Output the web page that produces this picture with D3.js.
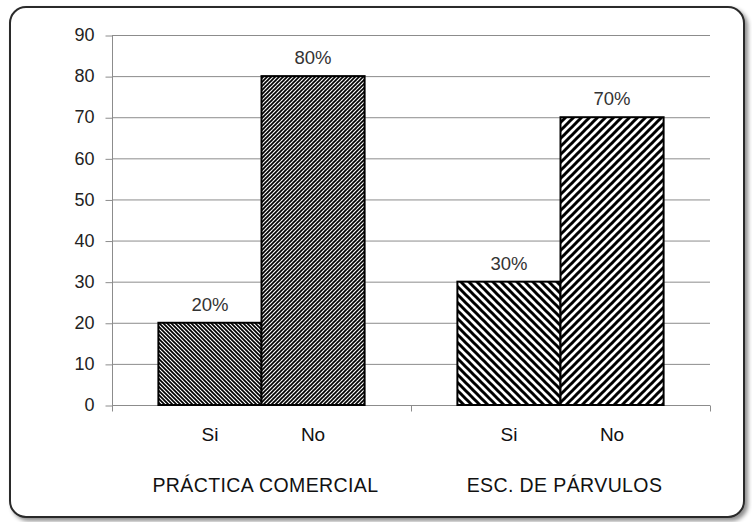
<!DOCTYPE html>
<html><head><meta charset="utf-8">
<script src="https://cdn.jsdelivr.net/npm/d3@7"></script>
<style>html,body{margin:0;padding:0;background:#fff;}svg{display:block;}</style>
</head><body>
<script>
const groups = ["PRÁCTICA COMERCIAL", "ESC. DE PÁRVULOS"];
const answers = ["Si", "No"];
const valuesPractica = [20, 80];
const valuesParvulos = [30, 70];
const percentLabelsPractica = ["20%", "80%"];
const percentLabelsParvulos = ["30%", "70%"];
const yTicks = [0, 10, 20, 30, 40, 50, 60, 70, 80, 90];

(function () {
const W = 752, H = 522;
const FONT = "'Liberation Sans', Arial, sans-serif";
const svg = d3.select("body").append("svg").attr("width", W).attr("height", H);
const defs = svg.append("defs");

const f = defs.append("filter").attr("id", "sh").attr("x", "-5%").attr("y", "-5%").attr("width", "115%").attr("height", "115%");
f.append("feDropShadow").attr("dx", 3).attr("dy", 3).attr("stdDeviation", 2).attr("flood-color", "#000").attr("flood-opacity", 0.45);

function hatch(id, size, sw, dir) {
  const p = defs.append("pattern").attr("id", id).attr("patternUnits", "userSpaceOnUse")
    .attr("width", size).attr("height", size);
  p.append("rect").attr("width", size).attr("height", size).attr("fill", "#fff");
  const s = size;
  const segs = dir === "down"
    ? [[-s, 0, s, 2 * s], [0, 0, s, s], [0, -s, 2 * s, s]]
    : [[-s, s, s, -s], [0, s, s, 0], [0, 2 * s, 2 * s, 0]];
  segs.forEach(d => p.append("line").attr("x1", d[0]).attr("y1", d[1]).attr("x2", d[2]).attr("y2", d[3])
    .attr("stroke", "#000").attr("stroke-width", sw));
}
hatch("fineDown", 4, 1.7, "down");
hatch("fineUp", 4, 1.7, "up");
hatch("wideDown", 8, 3, "down");
hatch("wideUp", 8, 3, "up");
const fills = [["url(#fineDown)", "url(#fineUp)"], ["url(#wideDown)", "url(#wideUp)"]];

svg.append("rect").attr("x", 10).attr("y", 7).attr("width", 734).attr("height", 510)
  .attr("rx", 16).attr("fill", "#fff").attr("stroke", "#2a2a2a").attr("stroke-width", 2)
  .attr("filter", "url(#sh)");

const pLeft = 112, pRight = 710, pTop = 35, pBottom = 405;
const y = d3.scaleLinear().domain([0, 90]).range([pBottom, pTop]);
const x0 = d3.scaleBand().domain(groups).range([pLeft, pRight]).padding(0);
const x1 = d3.scaleBand().domain(answers).range([0, x0.bandwidth()]).paddingInner(0).paddingOuter(0.45);

svg.append("g").selectAll("line").data(yTicks.filter(d => d > 0)).join("line")
  .attr("x1", pLeft).attr("x2", pRight).attr("y1", d => y(d) + 0.5).attr("y2", d => y(d) + 0.5)
  .attr("stroke", "#8c8c8c").attr("stroke-width", 1);

const ya = svg.append("g").attr("transform", `translate(${pLeft + 0.5},0)`)
  .call(d3.axisLeft(y).tickValues(yTicks).tickSize(7).tickPadding(11));
ya.select(".domain").attr("stroke", "#8c8c8c").attr("d", `M0,${pTop}V${pBottom + 5}`);
ya.selectAll(".tick line").attr("stroke", "#8c8c8c").attr("transform", "translate(0,0.5)");
ya.selectAll("text").attr("font-family", FONT).attr("font-size", 18).attr("fill", "#222");

const xa = svg.append("g").attr("transform", `translate(0,${pBottom + 0.5})`);
xa.append("line").attr("x1", pLeft).attr("x2", pRight).attr("stroke", "#8c8c8c");
xa.selectAll(".tk").data([pLeft, x0(groups[1]), pRight]).join("line")
  .attr("x1", d => d + 0.5).attr("x2", d => d + 0.5).attr("y1", 0).attr("y2", 6).attr("stroke", "#8c8c8c");

const data = [
  { g: groups[0], vals: valuesPractica, labs: percentLabelsPractica },
  { g: groups[1], vals: valuesParvulos, labs: percentLabelsParvulos }
];

data.forEach((d, gi) => {
  const g = svg.append("g").attr("transform", `translate(${x0(d.g)},0)`);
  g.selectAll("rect").data(answers).join("rect")
    .attr("x", a => x1(a)).attr("y", (a, i) => y(d.vals[i]))
    .attr("width", x1.bandwidth()).attr("height", (a, i) => y(0) - y(d.vals[i]))
    .attr("fill", (a, i) => fills[gi][i]).attr("stroke", "#000").attr("stroke-width", 2);
  g.selectAll("text.pl").data(answers).join("text").attr("class", "pl")
    .attr("x", a => x1(a) + x1.bandwidth() / 2).attr("y", (a, i) => y(d.vals[i]) - 12)
    .attr("text-anchor", "middle").attr("font-family", FONT)
    .attr("font-size", 18.5).attr("fill", "#333").text((a, i) => d.labs[i]);
  g.selectAll("text.al").data(answers).join("text").attr("class", "al")
    .attr("x", a => x1(a) + x1.bandwidth() / 2).attr("y", 441)
    .attr("text-anchor", "middle").attr("font-family", FONT)
    .attr("font-size", 19).attr("fill", "#111").text(a => a);
  g.append("text").attr("x", x0.bandwidth() / 2 + 4).attr("y", 492)
    .attr("text-anchor", "middle").attr("font-family", FONT)
    .attr("font-size", 19.5).attr("letter-spacing", 0.4).attr("fill", "#111").text(d.g);
});
})();
</script>
</body></html>
